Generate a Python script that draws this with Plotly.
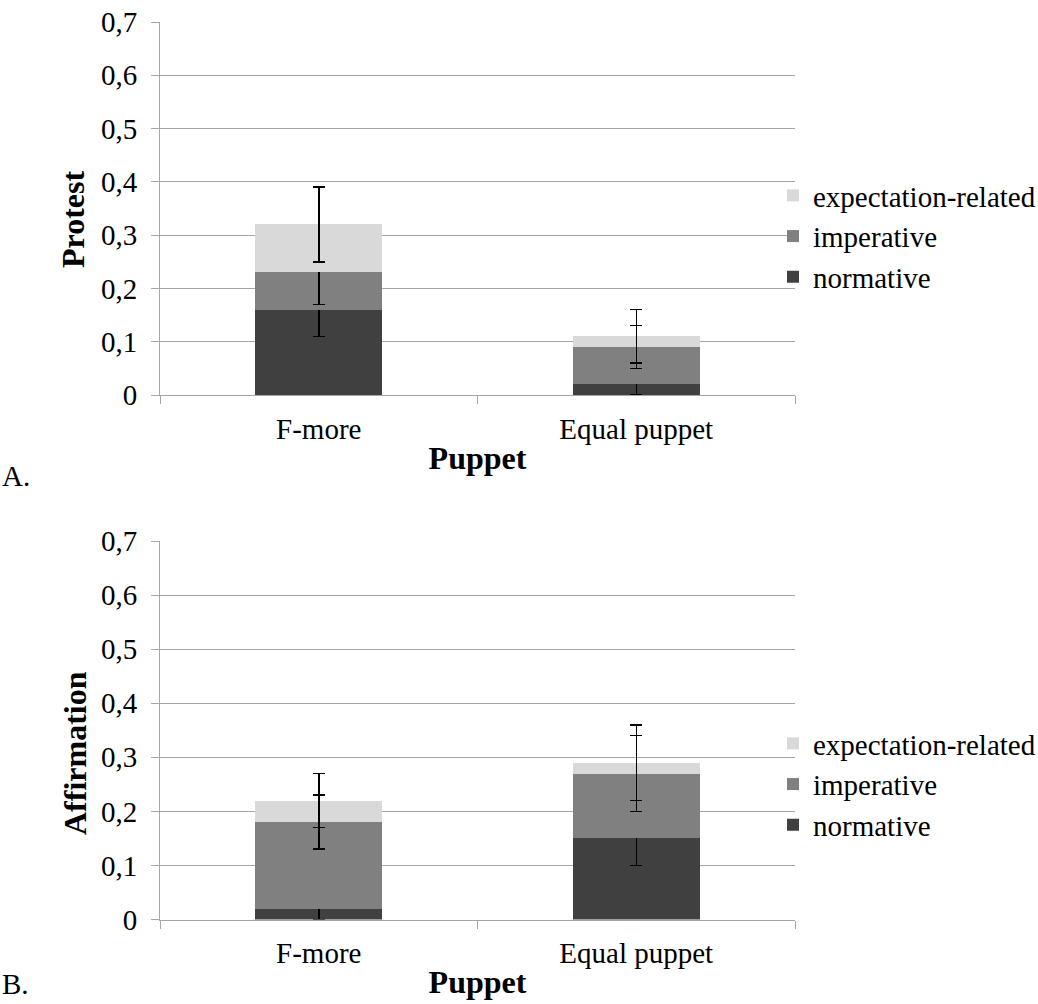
import plotly.graph_objects as go

categories = ["F-more", "Equal puppet"]
series_names = ["normative", "imperative", "expectation-related"]
series_colors = ["#404040", "#808080", "#d9d9d9"]

# Panel A: Protest
protest_normative = [0.16, 0.02]
protest_imperative = [0.07, 0.07]
protest_expectation = [0.09, 0.02]
protest_err_normative = [0.05, 0.02]
protest_err_imperative = [0.06, 0.04]
protest_err_expectation = [0.07, 0.05]

# Panel B: Affirmation
affirm_normative = [0.02, 0.15]
affirm_imperative = [0.16, 0.12]
affirm_expectation = [0.04, 0.02]
affirm_err_normative = [0.02, 0.05]
affirm_err_imperative = [0.05, 0.07]
affirm_err_expectation = [0.05, 0.07]

y_tick_values = [0, 0.1, 0.2, 0.3, 0.4, 0.5, 0.6, 0.7]
y_tick_labels = ["0", "0,1", "0,2", "0,3", "0,4", "0,5", "0,6", "0,7"]

FONT = "Liberation Serif"
TICK_SIZE = 29
LEGEND_SIZE = 29
TITLE_SIZE = 32
GRID = "#a6a6a6"

fig = go.Figure()

panels = [
    ("x", "y", "legend", [protest_normative, protest_imperative, protest_expectation],
     [protest_err_normative, protest_err_imperative, protest_err_expectation]),
    ("x2", "y2", "legend2", [affirm_normative, affirm_imperative, affirm_expectation],
     [affirm_err_normative, affirm_err_imperative, affirm_err_expectation]),
]

for xa, ya, lg, vals, errs in panels:
    for name, color, v, e in zip(series_names, series_colors, vals, errs):
        fig.add_trace(go.Bar(
            x=categories, y=v, name=name, marker_color=color,
            marker_line_width=0, width=0.4,
            error_y=dict(type="data", array=e, visible=True, color="black",
                         thickness=1.5, width=6),
            xaxis=xa, yaxis=ya, legend=lg,
        ))

xdom = [160 / 1038, 795 / 1038]
ydomA = [1 - 395 / 1004, 1 - 22 / 1004]
ydomB = [1 - 919.5 / 1004, 1 - 541 / 1004]

def xaxis_cfg(anchor):
    return dict(
        domain=xdom, anchor=anchor, showgrid=False, showline=True, linecolor=GRID,
        linewidth=1, ticks="outside", tickson="boundaries", ticklen=8, tickcolor=GRID,
        tickfont=dict(family=FONT, size=TICK_SIZE, color="black"),
        title=dict(text="<b>Puppet</b>", font=dict(family=FONT, size=TITLE_SIZE, color="black"),
                   standoff=2),
        ticklabelstandoff=8, automargin=False,
    )

def yaxis_cfg(anchor, dom):
    return dict(
        domain=dom, anchor=anchor, range=[0, 0.7], tickvals=y_tick_values, ticktext=y_tick_labels,
        showgrid=True, gridcolor=GRID, gridwidth=1, showline=True, linecolor=GRID, linewidth=1,
        ticks="outside", ticklen=8, tickcolor=GRID, zeroline=False,
        tickfont=dict(family=FONT, size=TICK_SIZE, color="black"),
        ticklabelstandoff=8, automargin=False,
    )

legend_cfg = dict(
    traceorder="reversed", font=dict(family=FONT, size=LEGEND_SIZE, color="black"),
    bgcolor="rgba(0,0,0,0)", xanchor="left", yanchor="top", itemwidth=30,
    tracegroupgap=0,
)

def text_note(text, x, y, size, angle=0):
    return dict(text=text, x=x / 1038, y=1 - y / 1004, xref="paper", yref="paper",
                xanchor="center" if angle else "left", yanchor="middle", textangle=angle,
                showarrow=False, font=dict(family=FONT, size=size, color="black"))

fig.update_layout(
    width=1038, height=1004, margin=dict(l=0, r=0, t=0, b=0, autoexpand=False),
    paper_bgcolor="white", plot_bgcolor="white", barmode="stack",
    font=dict(family=FONT, color="black"),
    xaxis=xaxis_cfg("y"), yaxis=yaxis_cfg("x", ydomA),
    xaxis2=xaxis_cfg("y2"), yaxis2=yaxis_cfg("x2", ydomB),
    legend=dict(legend_cfg, x=773 / 1038, y=1 - 170 / 1004),
    legend2=dict(legend_cfg, x=773 / 1038, y=1 - 718 / 1004),
    annotations=[
        text_note("<b>Protest</b>", 72.5, 219.5, TITLE_SIZE, angle=-90),
        text_note("<b>Affirmation</b>", 74.5, 753.5, TITLE_SIZE, angle=-90),
        text_note("A.", 0, 476, TICK_SIZE),
        text_note("B.", 0, 984, TICK_SIZE),
    ],
)

fig.write_html(
    "out.html",
    config={"displayModeBar": False},
    post_script="document.body.style.margin='0';document.body.style.overflow='hidden';",
)
